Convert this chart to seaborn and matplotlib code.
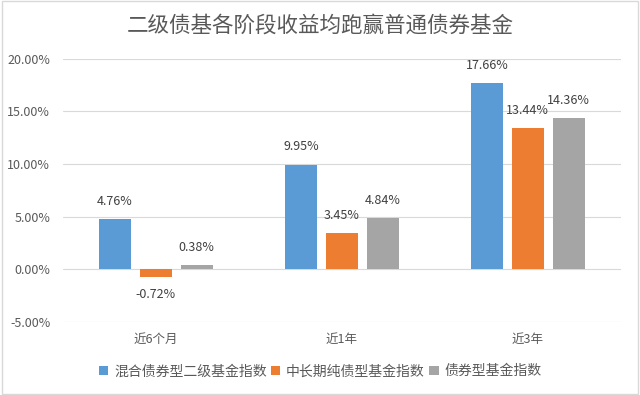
import matplotlib
matplotlib.use("Agg")
import matplotlib.pyplot as plt
import seaborn as sns
import pandas as pd
from matplotlib.ticker import FuncFormatter
from matplotlib.patches import Rectangle

categories = ["近6个月", "近1年", "近3年"]
series_names = ["混合债券型二级基金指数", "中长期纯债型基金指数", "债券型基金指数"]
mixed_level2 = [4.76, 9.95, 17.66]
mid_long_pure = [-0.72, 3.45, 13.44]
bond_fund = [0.38, 4.84, 14.36]
colors = ["#5B9BD5", "#ED7D31", "#A5A5A5"]

rows = []
for name, vals in zip(series_names, [mixed_level2, mid_long_pure, bond_fund]):
    for c, v in zip(categories, vals):
        rows.append({"period": c, "series": name, "value": v})
df = pd.DataFrame(rows)

sns.set_theme(style="white")
plt.rcParams['font.family'] = ['Noto Sans CJK SC', 'DejaVu Sans']

fig = plt.figure(figsize=(6.4, 3.95), dpi=100)
ax = fig.add_axes([0.098, 0.185, 0.872, 0.666])

sns.barplot(data=df, x="period", y="value", hue="series", order=categories,
            hue_order=series_names, palette=colors, width=0.66, gap=0.22,
            ax=ax, errorbar=None, saturation=1, linewidth=0)

ax.set_ylim(-5, 20)
ax.set_yticks([-5, 0, 5, 10, 15, 20])
ax.yaxis.set_major_formatter(FuncFormatter(lambda v, p: f"{v:.2f}%"))
ax.grid(axis="y", color="#D9D9D9", linewidth=0.8)
ax.set_axisbelow(True)
for s in ax.spines.values():
    s.set_visible(False)
ax.set_xlabel("")
ax.set_ylabel("")
ax.tick_params(axis="both", length=0, labelsize=9, colors="#595959")
ax.tick_params(axis="y", pad=9)
ax.tick_params(axis="x", pad=8)
ax.set_xlim(-0.5, 2.5)

for cont in ax.containers:
    labels = [f"{v:.2f}%" for v in cont.datavalues]
    ax.bar_label(cont, labels=labels, padding=8, fontsize=9, color="#404040")

handles, labels = ax.get_legend_handles_labels()
ax.legend(handles, labels, loc="center", bbox_to_anchor=(0.5, 0.06),
          bbox_transform=fig.transFigure, ncol=3, frameon=False, fontsize=10,
          handlelength=0.7, handleheight=0.7, handletextpad=0.4, columnspacing=0.3,
          labelcolor="#595959")

fig.text(0.5, 0.935, "二级债基各阶段收益均跑赢普通债券基金", ha="center", va="center",
         fontsize=15.5, color="#595959")

fig.patches.append(Rectangle((0.003, 0.003), 0.994, 0.994, transform=fig.transFigure,
                             fill=False, edgecolor="#D9D9D9", linewidth=1))

fig.savefig("out.png", dpi=100)
